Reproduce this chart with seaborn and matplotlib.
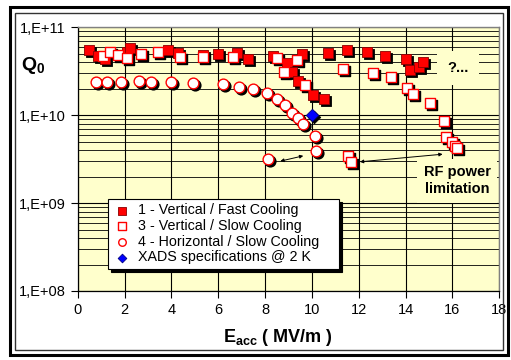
import matplotlib
matplotlib.use("Agg")
import matplotlib.pyplot as plt
import matplotlib.transforms as mtransforms
from matplotlib.patches import Rectangle
from matplotlib.ticker import FixedLocator, FuncFormatter, NullFormatter
import seaborn as sns
import numpy as np
import pandas as pd

# 1 - Vertical / Fast Cooling
fast_e = [0.48, 0.87, 1.17, 2.1, 2.23, 3.86, 4.28, 5.35, 5.99, 6.8, 7.27, 8.34, 8.94, 9.58, 9.15,
          9.41, 10.05, 10.52, 10.69, 11.5, 12.35, 13.12, 14.02, 14.19, 14.57, 14.74]
fast_q = [5.5e10, 4.7e10, 4.4e10, 5.2e10, 5.8e10, 5.5e10, 5.1e10, 4.8e10, 5.0e10, 5.1e10, 4.4e10, 4.7e10,
          3.9e10, 5.0e10, 3.1e10, 2.45e10, 1.7e10, 1.53e10, 5.1e10, 5.5e10, 5.2e10, 4.7e10, 4.4e10,
          3.3e10, 3.5e10, 4.0e10]

# 3 - Vertical / Slow Cooling
slow_e = [1.08, 1.38, 1.72, 2.1, 2.7, 3.43, 4.37, 5.35, 6.63, 8.51, 9.36, 8.81, 9.71, 11.33, 12.61,
          13.38, 14.06, 14.32, 15.05, 15.64, 15.73, 15.98, 16.11, 16.2, 11.54, 11.67]
slow_q = [4.7e10, 5.25e10, 4.8e10, 4.5e10, 5.0e10, 5.25e10, 4.6e10, 4.6e10, 4.6e10, 4.5e10, 4.25e10,
          3.1e10, 2.2e10, 3.36e10, 3.0e10, 2.7e10, 2.04e10, 1.74e10, 1.38e10, 8.6e9, 5.7e9, 5.0e9,
          4.5e9, 4.25e9, 3.4e9, 2.95e9]

# 4 - Horizontal / Slow Cooling
horiz_e = [0.78, 1.25, 1.85, 2.62, 3.13, 3.98, 4.92, 6.2, 6.89, 7.49, 8.08, 8.51, 8.85, 9.15, 9.41,
           9.62, 10.13, 10.17, 8.13]
horiz_q = [2.39e10, 2.39e10, 2.39e10, 2.46e10, 2.39e10, 2.39e10, 2.33e10, 2.27e10, 2.09e10, 1.99e10,
           1.79e10, 1.53e10, 1.31e10, 1.06e10, 9.3e9, 7.9e9, 5.8e9, 3.9e9, 3.2e9]

# XADS specifications @ 2 K
xads_e = [10.0]
xads_q = [1.0e10]

x_ticks = list(range(0, 19, 2))
y_ticks = [1e8, 1e9, 1e10, 1e11]

W, H = 511, 360
plt.rcParams['font.family'] = ['Liberation Sans', 'DejaVu Sans']
plt.rcParams['mathtext.fontset'] = 'custom'
plt.rcParams['mathtext.rm'] = 'Liberation Sans'
plt.rcParams['mathtext.bf'] = 'Liberation Sans:bold'

fig = plt.figure(figsize=(W / 100, H / 100), dpi=100)
ax = fig.add_axes([77.7 / W, 1 - 291 / H, (499.3 - 77.7) / W, (291 - 27.3) / H])
ax.set_facecolor('#FFFFCC')

# frames around the whole chart
fig.patches.append(Rectangle((9.5 / W, 1 - 355 / H), 498 / W, 348.5 / H, transform=fig.transFigure,
                             fill=False, edgecolor='black', linewidth=2.2))
fig.patches.append(Rectangle((15 / W, 1 - 350 / H), 488 / W, 337 / H, transform=fig.transFigure,
                             fill=False, edgecolor='#333333', linewidth=1.0))

series = [
    ("1 - Vertical / Fast Cooling", fast_e, fast_q, dict(marker='s', color='#FF0000', edgecolor='#8B0000', linewidth=0.6)),
    ("3 - Vertical / Slow Cooling", slow_e, slow_q, dict(marker='s', color='white', edgecolor='#FF0000', linewidth=1.0)),
    ("4 - Horizontal / Slow Cooling", horiz_e, horiz_q, dict(marker='o', color='white', edgecolor='#FF0000', linewidth=1.0)),
    ("XADS specifications @ 2 K", xads_e, xads_q, dict(marker='D', color='#0000FF', edgecolor='#000080', linewidth=0.6)),
]

shadow_shift = mtransforms.ScaledTranslation(2 / 100, -2 / 100, fig.dpi_scale_trans)
for label, xs, ys, style in series:
    df = pd.DataFrame({'E': xs, 'Q': ys})
    size = 40 if style['marker'] == 'D' else 60
    n_before = len(ax.collections)
    sns.scatterplot(data=df, x='E', y='Q', ax=ax, marker=style['marker'], color='black',
                    edgecolor='black', s=size, linewidth=style['linewidth'], zorder=3, legend=False)
    ax.collections[n_before].set_offset_transform(ax.transData + shadow_shift)
    sns.scatterplot(data=df, x='E', y='Q', ax=ax, marker=style['marker'], color=style['color'],
                    edgecolor=style['edgecolor'], s=size, linewidth=style['linewidth'], zorder=4,
                    label=label)

ax.set_yscale('log')
ax.set_xlim(0, 18)
ax.set_ylim(1e8, 1e11)
ax.set_xticks(x_ticks)
ax.yaxis.set_major_locator(FixedLocator(y_ticks))
minor = [m * 10.0 ** d for d in range(8, 11) for m in range(2, 10)]
ax.yaxis.set_minor_locator(FixedLocator(minor))
ax.yaxis.set_minor_formatter(NullFormatter())
ax.yaxis.set_major_formatter(FuncFormatter(lambda v, p: "1,E+%02d" % int(round(np.log10(v)))))
ax.tick_params(axis='both', which='major', direction='out', length=5, width=0.8, labelsize=10.5, colors='black')
ax.tick_params(axis='y', which='minor', length=0)
ax.grid(which='major', axis='both', color='black', linewidth=0.8)
ax.grid(which='minor', axis='y', color='black', linewidth=0.6)
ax.set_axisbelow(True)
for side in ['left', 'bottom']:
    ax.spines[side].set_color('black')
    ax.spines[side].set_linewidth(0.9)
for side in ['top', 'right']:
    ax.spines[side].set_color('#808080')
    ax.spines[side].set_linewidth(1.0)
ax.set_xlabel('')
ax.set_ylabel('')

fig.text(33 / W, 1 - 66 / H, r'$\mathbf{Q_0}$', fontsize=14, ha='center', va='center')
fig.text(278 / W, 1 - 337 / H, r'$\mathbf{E_{acc}}$ ( MV/m )', fontsize=13, fontweight='bold',
         ha='center', va='center')

ax.text(16.25, 3.44e10, '?...', fontsize=10.5, fontweight='bold', ha='center', va='center',
        bbox=dict(boxstyle='square,pad=0.7', facecolor='#FFFFCC', edgecolor='none'), zorder=2)
ax.text(16.2, 1.8e9, 'RF power\nlimitation', fontsize=10.5, fontweight='bold', ha='center', va='center',
        linespacing=1.25, bbox=dict(boxstyle='square,pad=0.45', facecolor='#FFFFCC', edgecolor='none'), zorder=2)

arrow = dict(arrowstyle='<|-|>', color='black', linewidth=0.7, mutation_scale=5, shrinkA=0, shrinkB=0)
ax.annotate('', xy=(9.63, 3.45e9), xytext=(8.65, 3.0e9), arrowprops=arrow, zorder=5)
ax.annotate('', xy=(15.58, 3.6e9), xytext=(12.05, 2.95e9), arrowprops=arrow, zorder=5)

leg = ax.legend(loc='upper left', bbox_to_anchor=(108 / W, 1 - 268 / H, 231 / W, 69 / H),
                bbox_transform=fig.transFigure, mode='expand',
                fontsize=10.3, frameon=True, fancybox=False, edgecolor='black', framealpha=1,
                shadow={'color': 'black', 'alpha': 1}, borderpad=0.3, labelspacing=0.12,
                handletextpad=0.5, handlelength=1.3, borderaxespad=0, markerscale=0.7)
leg.get_frame().set_linewidth(0.8)
leg.set_zorder(6)

fig.savefig('out.png', dpi=100)
